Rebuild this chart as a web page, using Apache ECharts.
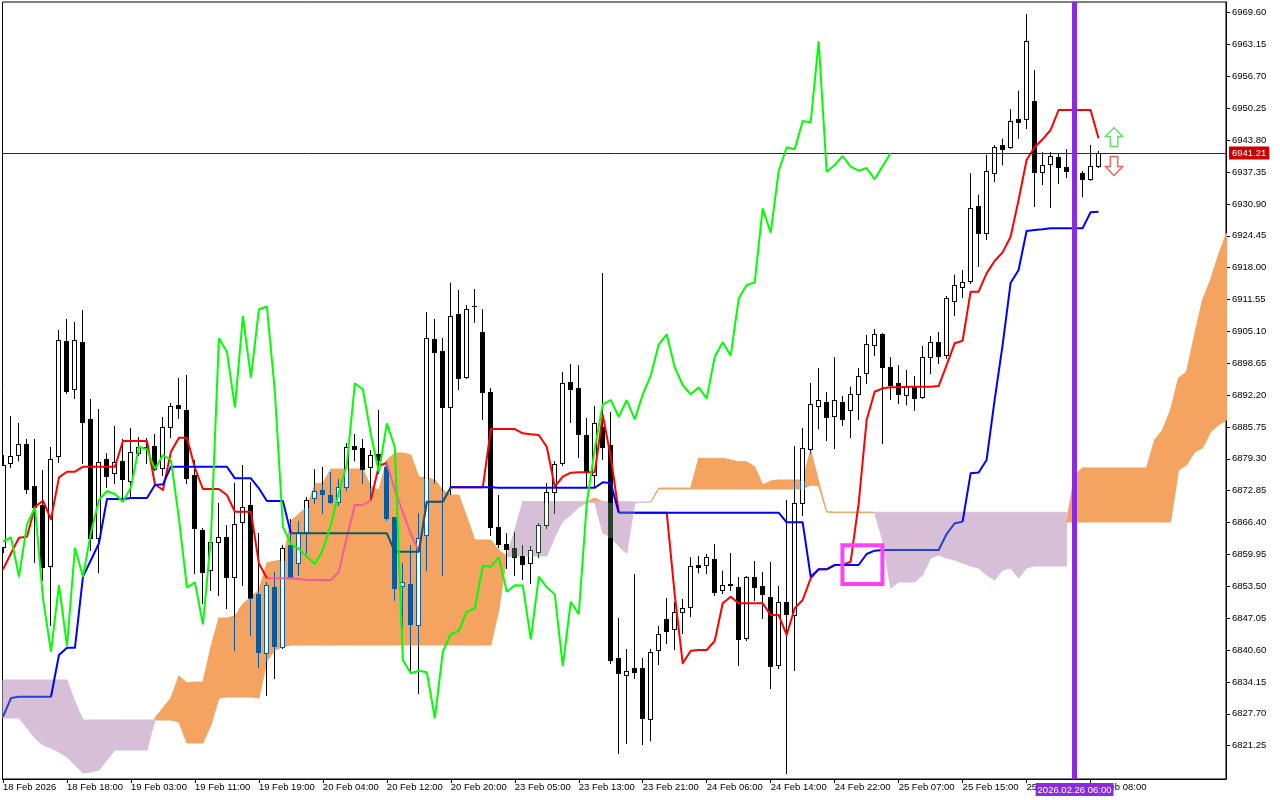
<!DOCTYPE html>
<html><head><meta charset="utf-8">
<script src="https://cdn.jsdelivr.net/npm/echarts@6/dist/echarts.min.js"></script>
<style>html,body{margin:0;padding:0;background:#fff;}#chart{width:1280px;height:800px;}</style>
</head><body><div id="chart"></div>
<script>
// ---------- DATA ----------
const timeLabels = ['18 Feb 2026','18 Feb 18:00','19 Feb 03:00','19 Feb 11:00','19 Feb 19:00','20 Feb 04:00','20 Feb 12:00','20 Feb 20:00','23 Feb 05:00','23 Feb 13:00','23 Feb 21:00','24 Feb 06:00','24 Feb 14:00','24 Feb 22:00','25 Feb 07:00','25 Feb 15:00','25 Feb 23:00','26 Feb 08:00'];
const timeLabelBars = [0,8,16,24,32,40,48,56,64,72,80,88,96,104,112,120,128,136];
const priceTicks = [6821.25,6827.70,6834.15,6840.60,6847.05,6853.50,6859.95,6866.40,6872.85,6879.30,6885.75,6892.20,6898.65,6905.10,6911.55,6918.00,6924.45,6930.90,6937.35,6943.80,6950.25,6956.70,6963.15,6969.60];

const opens = [6861.52,6878.40,6880.08,6882.24,6873.80,6869.96,6857.67,6879.88,6903.15,6893.38,
6902.95,6887.36,6863.22,6879.27,6876.50,6878.86,6874.88,6880.42,6881.76,6881.90,
6877.39,6885.75,6890.20,6889.19,6876.03,6864.90,6856.80,6862.41,6863.42,6855.32,
6866.46,6869.96,6851.94,6840.06,6853.42,6841.28,6861.86,6858.16,6864.55,6871.44,
6872.99,6871.98,6870.50,6873.66,6881.90,6881.43,6877.59,6880.28,6877.59,6867.47,
6853.56,6853.97,6845.67,6863.89,6903.50,6901.13,6889.73,6908.62,6895.93,6910.24,
6905.03,6892.77,6865.57,6862.06,6861.19,6859.64,6858.28,6860.51,6865.91,6872.53,
6878.40,6894.79,6893.64,6884.13,6876.03,6885.81,6882.10,6838.93,6835.55,6836.91,
6836.91,6826.58,6840.61,6846.82,6844.80,6848.24,6849.25,6857.75,6857.81,6858.97,
6852.75,6853.87,6853.30,6842.98,6855.32,6853.62,6851.28,6837.57,6850.39,6847.69,
6870.30,6881.23,6890.00,6890.87,6888.03,6890.87,6889.19,6892.36,6896.61,6902.34,
6904.51,6897.95,6894.59,6892.22,6893.78,6891.88,6899.97,6903.01,6900.32,6911.31,
6914.14,6915.36,6930.48,6924.95,6937.09,6942.76,6942.36,6948.08,6948.08,6951.73,
6937.30,6938.98,6940.33,6938.37,6937.36,6937.15,6935.88,6938.57];
const closes = [6878.05,6879.88,6882.24,6873.20,6869.49,6857.47,6879.27,6903.35,6893.09,6903.35,
6886.82,6863.22,6878.60,6875.89,6878.60,6875.22,6880.62,6881.76,6881.43,6877.18,
6885.81,6890.00,6889.53,6875.36,6865.24,6856.46,6862.53,6863.42,6855.45,6866.05,
6869.49,6851.07,6840.27,6853.77,6841.42,6861.32,6855.45,6864.43,6870.97,6872.79,
6872.18,6870.63,6873.54,6881.76,6881.23,6877.24,6880.08,6879.07,6867.27,6853.22,
6854.31,6845.81,6863.22,6903.70,6900.99,6889.73,6908.21,6895.72,6909.57,6910.14,
6892.89,6865.57,6862.06,6861.11,6859.49,6858.02,6860.85,6865.91,6872.53,6878.20,
6894.59,6893.38,6884.27,6876.58,6886.49,6881.64,6838.59,6835.89,6836.42,6836.10,
6826.79,6840.27,6843.79,6844.46,6848.36,6849.05,6857.61,6857.51,6859.37,6852.41,
6853.71,6853.67,6842.78,6855.45,6853.30,6851.88,6837.37,6850.39,6847.84,6870.30,
6881.43,6890.34,6891.21,6887.83,6891.21,6887.30,6892.36,6896.13,6902.48,6904.51,
6897.83,6894.25,6892.36,6893.78,6891.55,6899.97,6902.89,6900.18,6911.79,6914.49,
6915.03,6930.01,6925.07,6937.56,6942.36,6941.95,6947.68,6947.42,6963.81,6937.42,
6938.77,6940.60,6938.43,6937.62,6938.17,6935.88,6938.57,6941.21];
const highs = [6880.08,6887.97,6886.49,6883.32,6883.26,6877.04,6881.64,6905.38,6907.60,6907.06,
6909.43,6891.41,6889.39,6880.42,6885.95,6883.26,6885.60,6883.78,6883.52,6884.33,
6887.83,6890.54,6895.60,6896.27,6879.07,6865.24,6863.22,6870.30,6865.91,6874.35,
6878.05,6874.67,6864.23,6854.37,6856.46,6861.86,6867.12,6866.78,6871.64,6877.18,
6877.71,6876.70,6875.16,6882.45,6884.33,6883.26,6881.09,6889.19,6878.72,6867.53,
6858.16,6861.86,6868.28,6909.08,6907.54,6903.70,6914.83,6913.47,6910.44,6913.62,
6909.57,6893.64,6871.98,6864.23,6864.55,6861.86,6861.66,6866.38,6874.35,6878.86,
6896.82,6898.44,6898.29,6887.51,6890.00,6916.85,6888.72,6847.03,6840.81,6855.99,
6839.05,6840.75,6845.53,6851.07,6850.26,6850.87,6859.49,6859.70,6859.98,6862.06,
6856.60,6860.18,6855.45,6855.59,6858.62,6856.34,6858.48,6853.56,6870.97,6881.90,
6885.48,6894.59,6897.63,6892.89,6899.85,6892.08,6893.78,6897.63,6904.37,6905.52,
6904.83,6899.97,6898.29,6897.28,6896.07,6902.20,6904.22,6905.03,6912.26,6916.51,
6917.52,6937.09,6932.70,6940.80,6942.82,6943.98,6950.11,6953.75,6969.34,6958.00,
6941.47,6941.47,6941.14,6942.01,6939.79,6937.56,6942.82,6941.61];
const lows = [6860.45,6877.71,6879.07,6872.33,6858.48,6854.78,6845.67,6878.72,6892.69,6891.55,
6878.40,6860.85,6856.46,6873.66,6874.35,6871.64,6871.64,6880.08,6878.40,6877.04,
6876.03,6883.78,6887.51,6874.35,6856.13,6850.06,6852.75,6851.74,6849.05,6840.61,
6853.77,6843.65,6837.23,6831.50,6834.88,6841.01,6855.28,6855.79,6860.18,6870.30,
6868.28,6870.30,6869.96,6872.99,6879.07,6874.47,6871.64,6876.37,6866.92,6850.73,
6845.00,6835.89,6831.85,6856.80,6874.41,6855.79,6872.18,6893.38,6895.60,6907.06,
6887.30,6863.89,6861.52,6857.15,6855.79,6854.92,6854.23,6859.49,6865.24,6868.40,
6878.05,6886.82,6879.61,6873.80,6873.66,6879.27,6837.92,6819.70,6821.73,6834.88,
6821.52,6822.39,6837.72,6841.97,6840.75,6843.99,6847.55,6856.46,6856.13,6851.74,
6852.09,6852.75,6837.57,6842.63,6850.73,6847.03,6832.86,6836.91,6815.65,6836.56,
6867.93,6880.42,6885.48,6883.11,6881.43,6886.15,6883.66,6887.30,6894.71,6900.32,
6882.45,6891.35,6890.54,6890.40,6889.19,6891.68,6896.74,6898.76,6899.71,6908.41,
6912.12,6914.83,6918.33,6923.74,6935.60,6938.92,6942.15,6944.18,6946.32,6930.54,
6934.87,6930.33,6935.19,6936.41,6935.74,6932.56,6935.74,6938.43];

const tenkan = [6856.94,6860.18,6863.34,6863.54,6869.61,6870.83,6867.06,6875.56,6876.70,6876.70,
6877.71,6877.71,6877.71,6877.71,6877.71,6882.91,6882.91,6882.91,6882.91,6874.15,
6872.99,6880.75,6883.58,6883.58,6877.45,6873.20,6873.20,6873.20,6871.98,6868.60,
6868.60,6868.60,6858.16,6855.12,6855.12,6855.12,6855.12,6854.98,6854.78,6854.78,
6854.78,6854.78,6856.46,6863.48,6869.96,6869.96,6870.97,6877.85,6878.52,6872.99,
6868.54,6864.09,6860.65,6870.63,6870.63,6870.63,6873.54,6873.54,6873.54,6873.54,
6873.54,6885.34,6885.34,6885.34,6885.34,6884.47,6884.27,6884.13,6881.76,6873.66,
6875.69,6876.50,6876.58,6876.58,6876.58,6888.17,6879.73,6868.40,6868.40,6868.40,
6868.40,6868.40,6868.40,6868.40,6851.80,6837.92,6840.47,6840.61,6840.61,6842.43,
6850.06,6851.40,6850.06,6850.06,6850.06,6850.06,6847.69,6847.69,6843.65,6849.05,
6850.73,6855.12,6856.94,6856.94,6857.81,6857.81,6858.48,6870.30,6887.16,6892.89,
6893.58,6893.78,6893.78,6893.90,6893.90,6893.90,6893.90,6894.04,6898.29,6902.69,
6903.21,6913.13,6913.13,6916.85,6919.34,6921.10,6924.26,6931.69,6939.79,6942.36,
6943.98,6945.86,6949.91,6949.91,6949.91,6949.91,6949.91,6944.18];
const kijun = [6827.11,6830.89,6831.16,6831.16,6831.16,6831.16,6831.16,6839.60,6841.08,6841.08,
6855.45,6858.83,6862.21,6871.17,6871.17,6871.17,6871.37,6871.37,6871.37,6874.01,
6874.15,6877.71,6877.71,6877.71,6877.71,6877.71,6877.71,6877.71,6877.71,6875.36,
6875.36,6875.36,6873.34,6870.77,6870.77,6870.77,6864.23,6864.23,6864.23,6864.23,
6864.23,6864.23,6864.23,6864.23,6864.23,6864.23,6864.23,6864.23,6864.23,6860.51,
6860.51,6860.51,6860.51,6870.63,6870.63,6870.63,6873.54,6873.54,6873.54,6873.54,
6873.54,6873.54,6873.46,6873.46,6873.46,6873.46,6873.46,6873.46,6873.46,6873.46,
6873.46,6873.46,6873.46,6873.46,6873.46,6874.55,6874.41,6868.40,6868.40,6868.40,
6868.40,6868.40,6868.40,6868.40,6868.40,6868.40,6868.40,6868.40,6868.40,6868.40,
6868.40,6868.40,6868.40,6868.40,6868.40,6868.40,6868.40,6868.40,6866.46,6866.46,
6866.46,6855.45,6856.94,6856.94,6857.81,6857.81,6857.81,6857.81,6860.04,6860.71,
6860.85,6860.85,6860.85,6860.85,6860.85,6860.85,6860.85,6860.85,6864.09,6866.25,
6866.58,6876.37,6876.54,6879.07,6891.21,6902.34,6914.89,6917.52,6925.42,6925.62,
6925.76,6925.96,6925.96,6925.96,6925.96,6925.96,6929.20,6929.32];
const chikou = [6862.53,6863.42,6855.45,6866.05,6869.49,6851.07,6840.27,6853.77,6841.42,6861.32,
6855.45,6864.43,6870.97,6872.79,6872.18,6870.63,6873.54,6881.76,6881.23,6877.24,
6880.08,6879.07,6867.27,6853.22,6854.31,6845.81,6863.22,6903.70,6900.99,6889.73,
6908.21,6895.72,6909.57,6910.14,6892.89,6865.57,6862.06,6861.11,6859.49,6858.02,
6860.85,6865.91,6872.53,6878.20,6894.59,6893.38,6884.27,6876.58,6886.49,6881.64,
6838.59,6835.89,6836.42,6836.10,6826.79,6840.27,6843.79,6844.46,6848.36,6849.05,
6857.61,6857.51,6859.37,6852.41,6853.71,6853.67,6842.78,6855.45,6853.30,6851.88,
6837.37,6850.39,6847.84,6870.30,6881.43,6890.34,6891.21,6887.83,6891.21,6887.30,
6892.36,6896.13,6902.48,6904.51,6897.83,6894.25,6892.36,6893.78,6891.55,6899.97,
6902.89,6900.18,6911.79,6914.49,6915.03,6930.01,6925.07,6937.56,6942.36,6941.95,
6947.68,6947.42,6963.81,6937.42,6938.77,6940.60,6938.43,6937.62,6938.17,6935.88,
6938.57,6941.21];

// Kumo (cloud) as drawn, per bar slot 0..153: sandy-brown part and thistle part
const kumoUpTop = [null,null,null,null,null,null,null,null,null,null,null,null,null,null,null,null,null,null,null,
6826.85,6828.87,6830.89,6835.35,6833.93,6834.13,6834.13,6841.22,6847.09,6847.09,
6847.49,6849.92,6851.34,6852.75,6858.22,6858.62,6858.83,6866.72,6868.14,6869.55,
6874.21,6874.41,6877.24,6877.24,6877.24,6877.24,6877.24,6873.66,6872.99,6879.07,
6880.48,6880.48,6880.08,6875.63,6875.42,6875.02,6872.99,6871.98,6871.98,6867.53,
6862.87,6862.87,6862.87,6860.85,6859.54,
null,null,null,null,null,null,null,null,null,
6870.57,6871.37,6870.57,
null,null,null,null,null,
6870.57,6873.40,6873.40,6873.40,6873.40,6873.40,6879.41,6879.41,6879.41,6879.41,
6879.07,6878.72,6878.72,6877.71,6874.01,6874.82,6875.02,6875.02,6875.02,6875.02,
6881.09,6874.67,6868.60,6868.52,6868.52,6868.52,6868.52,6868.52,6868.48,
null,null,null,null,null,null,null,null,null,null,null,null,null,null,null,null,null,null,null,null,null,null,null,
6866.52,6876.03,6877.45,6877.45,6877.45,6877.45,6877.45,6877.45,6877.45,6877.45,6877.45,
6883.11,6885.14,6889.19,6895.66,6896.88,6904.37,6911.45,6915.50,6920.56,6925.01];
const kumoUpBot = [null,null,null,null,null,null,null,null,null,null,null,null,null,null,null,null,null,null,null,
6826.44,6826.44,6826.44,6826.04,6821.79,6821.79,6821.79,6825.43,6830.89,6831.10,
6831.10,6831.10,6831.10,6830.89,6838.38,6840.61,6841.22,6841.62,6841.62,6841.62,
6841.62,6841.62,6841.62,6841.62,6841.62,6841.62,6841.62,6841.62,6841.62,6841.62,
6841.62,6841.62,6841.62,6841.62,6841.62,6841.62,6841.62,6841.62,6841.62,6841.62,
6841.62,6841.62,6841.62,6848.71,6859.54,
null,null,null,null,null,null,null,null,null,
6870.57,6870.57,6870.57,
null,null,null,null,null,
6870.57,6873.20,6873.20,6873.20,6873.20,6873.20,6873.20,6873.20,6873.20,6873.20,
6873.20,6873.20,6873.20,6873.20,6873.20,6873.20,6873.20,6873.20,6873.20,6873.20,
6874.01,6873.80,6868.54,6868.46,6868.46,6868.46,6868.46,6868.46,6868.48,
null,null,null,null,null,null,null,null,null,null,null,null,null,null,null,null,null,null,null,null,null,null,null,
6866.52,6866.52,6866.52,6866.52,6866.52,6866.52,6866.52,6866.52,6866.52,6866.52,6866.52,
6866.52,6866.52,6866.52,6877.04,6878.05,6880.69,6881.49,6884.73,6886.15,6887.16];
const kumoDnTop = [6834.54,6834.54,6834.54,6834.54,6834.54,6834.54,6834.54,6834.54,6834.54,6830.09,
6826.44,6826.44,6826.44,6826.44,6826.44,6826.44,6826.44,6826.44,6826.44,6826.44,
null,null,null,null,null,null,null,null,null,null,null,null,null,null,null,null,null,null,null,null,null,null,null,null,null,null,null,null,null,null,null,null,null,null,null,null,null,null,null,null,null,null,null,
6859.54,6864.90,6870.63,6870.63,6870.63,6870.63,6870.63,6870.63,6870.63,6870.63,6870.63,6870.57,
6870.63,6870.63,6870.63,6870.63,6870.57,6870.51,6870.57,
null,null,null,null,null,null,null,null,null,null,null,null,null,null,null,null,null,null,null,null,null,null,null,null,null,null,null,
6868.48,6868.48,6868.48,6868.48,6868.48,6868.48,6868.48,6868.48,6868.48,6868.48,6868.48,6868.48,6868.48,
6868.48,6868.48,6868.48,6868.48,6868.48,6868.48,6868.48,6868.48,6868.48,6868.48,6868.48,6868.48,
null,null,null,null,null,null,null,null,null,null,null,null,null,null,null,null,null,null,null,null];
const kumoDnBot = [6826.85,6826.85,6826.85,6824.82,6822.80,6821.38,6820.77,6819.97,6818.95,6817.33,
6815.71,6815.92,6816.32,6818.35,6820.37,6820.37,6820.37,6820.37,6820.37,6826.44,
null,null,null,null,null,null,null,null,null,null,null,null,null,null,null,null,null,null,null,null,null,null,null,null,null,null,null,null,null,null,null,null,null,null,null,null,null,null,null,null,null,null,null,
6859.54,6859.64,6859.64,6859.64,6859.64,6859.64,6863.48,6866.72,6867.93,6869.55,6870.36,6870.57,
6864.29,6863.48,6861.66,6860.24,6870.36,6870.51,6870.57,
null,null,null,null,null,null,null,null,null,null,null,null,null,null,null,null,null,null,null,null,null,null,null,null,null,null,null,
6868.34,6862.87,6853.16,6854.37,6854.37,6854.37,6855.79,6859.23,6859.84,6859.23,6858.83,6858.22,6857.61,
6857.21,6855.79,6854.78,6856.80,6857.21,6855.18,6857.21,6857.61,6857.61,6857.61,6857.61,6857.61,
null,null,null,null,null,null,null,null,null,null,null,null,null,null,null,null,null,null,null,null];

const lastPrice = 6941.21;
const markerBar = 134;
const markerText = '2026.02.26 06:00';
const signalUp = [[138.94, 6944.44]];
const signalDown = [[138.94, 6938.57]];
const boxRegion = [[104.97, 6861.80, 109.97, 6853.97]];

// ---------- RENDERING ----------
const FONT = "'Liberation Sans', Arial, sans-serif";
const BLACK=[0,0,0], RED=[255,0,0], BLUE=[0,0,255];
const SANDY=[244,164,96], THISTLE=[216,191,216];
function rgb(c){return 'rgb('+c[0]+','+c[1]+','+c[2]+')';}
function ink(base,k){ if(!k) return rgb(base); return rgb([0,1,2].map(j=>base[j]^(255-k[j]))); }
function has(a,i){return a[i]!==null && a[i]!==undefined;}
function zonesAt(i){
  const z=[];
  if(has(kumoUpTop,i)&&has(kumoUpBot,i)&&kumoUpTop[i]>kumoUpBot[i]) z.push({lo:kumoUpBot[i],hi:kumoUpTop[i],k:SANDY});
  if(has(kumoDnTop,i)&&has(kumoDnBot,i)&&kumoDnTop[i]>kumoDnBot[i]) z.push({lo:kumoDnBot[i],hi:kumoDnTop[i],k:THISTLE});
  return z;
}
function zoneOf(v,zones){ for(const z of zones){ if(v>=z.lo&&v<=z.hi) return z.k; } return null; }
function splitRange(lo,hi,zones){
  const pts=[lo,hi];
  zones.forEach(z=>{[z.lo,z.hi].forEach(b=>{ if(b>lo&&b<hi) pts.push(b); });});
  pts.sort((a,b)=>a-b);
  const out=[];
  for(let j=0;j<pts.length-1;j++){ const a=pts[j],b=pts[j+1]; if(b<=a) continue; out.push({lo:a,hi:b,k:zoneOf((a+b)/2,zones)}); }
  if(!out.length) out.push({lo:lo,hi:hi,k:zoneOf(lo,zones)});
  return out;
}
function segZone(i,m){
  const pairs=[[kumoUpTop,kumoUpBot,SANDY],[kumoDnTop,kumoDnBot,THISTLE]];
  for(const [T,B,k] of pairs){
    if(has(T,i)&&has(B,i)&&has(T,i+1)&&has(B,i+1)){
      const hi=(T[i]+T[i+1])/2, lo=(B[i]+B[i+1])/2;
      if(m>lo&&m<hi) return k;
    }
  }
  return null;
}
function renderKumo(params, api){
  const i=api.value(0); const ch=[];
  [[kumoUpTop,kumoUpBot,SANDY],[kumoDnTop,kumoDnBot,THISTLE]].forEach(([T,B,k])=>{
    if(has(T,i)&&has(B,i)&&has(T,i+1)&&has(B,i+1)){
      const p=[api.coord([i,T[i]]),api.coord([i+1,T[i+1]]),api.coord([i+1,B[i+1]]),api.coord([i,B[i]])];
      ch.push({type:'polygon',shape:{points:p},style:{fill:rgb(k),stroke:rgb(k),lineWidth:1}});
    }
  });
  return {type:'group',children:ch};
}
function renderCandle(params, api){
  const i=api.value(0), o=api.value(1), c=api.value(2), l=api.value(3), h=api.value(4);
  const cx=Math.floor(api.coord([i,o])[0]);
  const Y=v=>Math.round(api.coord([i,v])[1]);
  const zones=zonesAt(i);
  const ch=[];
  splitRange(l,h,zones).forEach(p=>{
    ch.push({type:'line',shape:{x1:cx+0.5,y1:Y(p.hi),x2:cx+0.5,y2:Y(p.lo)+1},style:{stroke:ink(BLACK,p.k),lineWidth:1}});
  });
  const top=Math.max(o,c), bot=Math.min(o,c);
  const yT=Y(top), yB=Math.max(Y(bot),yT);
  if(c>o){
    ch.push({type:'rect',shape:{x:cx-2,y:yT,width:5,height:yB-yT+1},style:{fill:'#fff'}});
    splitRange(bot,top,zones).forEach(p=>{
      const a=Y(p.hi), b=Y(p.lo)+1, col=ink(BLACK,p.k);
      ch.push({type:'line',shape:{x1:cx-1.5,y1:a,x2:cx-1.5,y2:b},style:{stroke:col,lineWidth:1}});
      ch.push({type:'line',shape:{x1:cx+2.5,y1:a,x2:cx+2.5,y2:b},style:{stroke:col,lineWidth:1}});
    });
    ch.push({type:'line',shape:{x1:cx-2,y1:yT+0.5,x2:cx+3,y2:yT+0.5},style:{stroke:ink(BLACK,zoneOf(top,zones)),lineWidth:1}});
    ch.push({type:'line',shape:{x1:cx-2,y1:yB+0.5,x2:cx+3,y2:yB+0.5},style:{stroke:ink(BLACK,zoneOf(bot,zones)),lineWidth:1}});
  } else {
    splitRange(bot,top,zones).forEach(p=>{
      const a=Y(p.hi), b=Math.max(Y(p.lo),a);
      ch.push({type:'rect',shape:{x:cx-2,y:a,width:5,height:b-a+1},style:{fill:ink(BLACK,p.k)}});
    });
  }
  return {type:'group',children:ch};
}
function makeLineRender(values, base){
  return function(params, api){
    const ch=[]; let run=null, runK=null;
    function mk(pts,k){ return {type:'polyline',shape:{points:pts},style:{stroke:ink(base,k),lineWidth:2,fill:null,lineJoin:'round'}}; }
    for(let i=0;i<values.length-1;i++){
      const k=segZone(i,(values[i]+values[i+1])/2);
      const p0=api.coord([i,values[i]]), p1=api.coord([i+1,values[i+1]]);
      if(run && runK===k){ run.push(p1); } else { if(run) ch.push(mk(run,runK)); run=[p0,p1]; runK=k; }
    }
    if(run) ch.push(mk(run,runK));
    return {type:'group',children:ch};
  };
}

const chart = echarts.init(document.getElementById('chart'));
const candleData = opens.map((o,i)=>[i,o,closes[i],lows[i],highs[i]]);
const kumoData = kumoUpTop.slice(0,-1).map((v,i)=>[i, has(kumoUpTop,i)?kumoUpTop[i]:(has(kumoDnTop,i)?kumoDnTop[i]:kumoUpTop[153])]);

chart.setOption({
  animation:false,
  backgroundColor:'#fff',
  grid:{left:2,right:54,top:2,bottom:21,show:true,borderColor:'#000',borderWidth:1,backgroundColor:'#fff'},
  xAxis:{type:'value',min:-0.0625,max:152.9375,splitLine:{show:false},
    axisLine:{show:true,onZero:false,lineStyle:{color:'#000',width:1}},
    axisTick:{show:true,customValues:timeLabelBars,length:4,lineStyle:{color:'#000'}},
    axisLabel:{show:true,customValues:timeLabelBars,formatter:v=>timeLabels[timeLabelBars.indexOf(Math.round(v))]||'',align:'left',color:'#000',fontSize:9.5,fontFamily:FONT,margin:3}},
  yAxis:{type:'value',position:'right',min:6814.50,max:6971.77,splitLine:{show:false},
    axisLine:{show:true,onZero:false,lineStyle:{color:'#000'}},
    axisTick:{show:true,customValues:priceTicks,length:4,lineStyle:{color:'#000'}},
    axisLabel:{show:true,customValues:priceTicks,formatter:v=>Number(v).toFixed(2),color:'#000',fontSize:9.5,fontFamily:FONT,margin:6}},
  series:[
    {type:'custom',name:'kumo',data:kumoData,renderItem:renderKumo,encode:{x:0,y:1},clip:true,z:1,silent:true},
    {type:'custom',name:'candles',data:candleData,renderItem:renderCandle,encode:{x:0,y:[1,2,3,4]},clip:true,z:2,silent:true},
    {type:'custom',name:'tenkan',data:[[0,tenkan[0]]],renderItem:makeLineRender(tenkan,RED),encode:{x:0,y:1},clip:true,z:3,silent:true},
    {type:'custom',name:'kijun',data:[[0,kijun[0]]],renderItem:makeLineRender(kijun,BLUE),encode:{x:0,y:1},clip:true,z:4,silent:true},
    {type:'line',name:'chikou',data:chikou.map((v,i)=>[i,v]),symbol:'none',lineStyle:{color:'#00FF00',width:2},z:5,silent:true,
      markLine:{silent:true,symbol:['none','none'],animation:false,
        data:[
          {yAxis:lastPrice,lineStyle:{color:'#8B0000',width:1,type:'solid'},
           label:{show:true,position:'end',formatter:lastPrice.toFixed(2),color:'#fff',backgroundColor:'#CC0000',padding:[2,3,1,3],distance:3,fontSize:9.5,fontFamily:FONT}},
          {xAxis:markerBar,lineStyle:{color:'#8A2BE2',width:5,type:'solid'},
           label:{show:true,position:'start',formatter:markerText,color:'#fff',backgroundColor:'#8A2BE2',padding:[2,2,1,2],distance:4,fontSize:9.5,fontFamily:FONT}}
        ]}},
    {type:'custom',name:'box',data:boxRegion,encode:{x:[0,2],y:[1,3]},z:6,silent:true,
      renderItem:function(p,api){ const a=api.coord([api.value(0),api.value(1)]), b=api.coord([api.value(2),api.value(3)]);
        return {type:'rect',shape:{x:a[0],y:a[1],width:b[0]-a[0],height:b[1]-a[1]},style:{fill:null,stroke:'#FF40FF',lineWidth:4}}; }},
    {type:'scatter',name:'up',data:signalUp,symbol:'path://M8,0L16,9L11.5,9L11.5,19L4.5,19L4.5,9L0,9Z',symbolSize:[17,19],
      itemStyle:{color:'rgba(255,255,255,0)',borderColor:'#3FD43F',borderWidth:1.5},z:7,silent:true},
    {type:'scatter',name:'down',data:signalDown,symbol:'path://M4.5,0L11.5,0L11.5,10L16,10L8,19L0,10L4.5,10Z',symbolSize:[17,19],
      itemStyle:{color:'rgba(255,255,255,0)',borderColor:'#F03838',borderWidth:1.5},z:7,silent:true}
  ]
});
</script>
</body></html>
